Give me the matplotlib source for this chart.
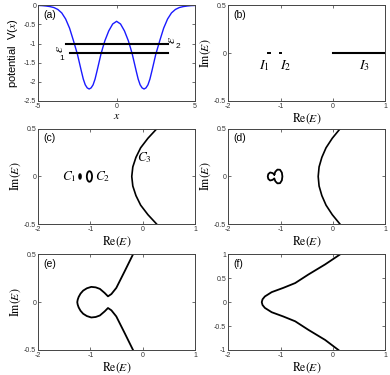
import matplotlib
matplotlib.use('Agg')
import matplotlib.pyplot as plt
from matplotlib.patches import Ellipse

plt.rcParams['font.family'] = ['Liberation Sans', 'DejaVu Sans']
plt.rcParams['mathtext.fontset'] = 'stix'

# (a) double well potential
pot_x = [-5, -4.75, -4.5, -4.25, -4, -3.75, -3.5, -3.25, -3, -2.75, -2.5, -2.375, -2.25, -2.125,
         -2, -1.875, -1.75, -1.625, -1.5, -1.375, -1.25, -1.125, -1, -0.875, -0.75, -0.5, -0.25, 0,
         0.25, 0.5, 0.75, 0.875, 1, 1.125, 1.25, 1.375, 1.5, 1.625, 1.75, 1.875, 2, 2.125,
         2.25, 2.375, 2.5, 2.75, 3, 3.25, 3.5, 3.75, 4, 4.25, 4.5, 4.75, 5]
pot_v = [-0.005, -0.01, -0.02, -0.035, -0.06, -0.11, -0.2, -0.36, -0.6, -0.93, -1.28, -1.50, -1.72, -1.93,
         -2.08, -2.16, -2.19, -2.16, -2.08, -1.93, -1.72, -1.50, -1.28, -1.10, -0.93, -0.67, -0.49, -0.42,
         -0.49, -0.67, -0.93, -1.10, -1.28, -1.50, -1.72, -1.93, -2.08, -2.16, -2.19, -2.16, -2.08, -1.93,
         -1.72, -1.50, -1.28, -0.93, -0.6, -0.36, -0.2, -0.11, -0.06, -0.035, -0.02, -0.01, -0.005]
eps_level = [-1.25, -1.0]
eps_start = [-2.97, -3.2]
eps_end = [3.25, 3.25]

# (b) spectrum pieces
b_point_x = [-1.22, -1.0]
b_band_x = [0, 1]

# (c) two small loops and the open arc
c_loop_cx = [-1.2, -1.02]
c_loop_rx = [0.017, 0.05]
c_loop_ry = [0.024, 0.055]
c_arc_y = [-0.5, -0.4, -0.3, -0.2, -0.1, 0, 0.1, 0.2, 0.3, 0.4, 0.5]
c_arc_x = [0.27, 0.10, -0.04, -0.13, -0.19, -0.21, -0.19, -0.13, -0.04, 0.10, 0.27]

# (d) merged loop and arc
d_loop_x = [-1.12, -1.10, -1.06, -1.01, -0.975, -0.965, -0.975, -1.01, -1.06, -1.10, -1.12,
            -1.15, -1.20, -1.235, -1.245, -1.235, -1.20, -1.15, -1.12]
d_loop_y = [0.02, 0.05, 0.072, 0.07, 0.04, 0.0, -0.04, -0.07, -0.072, -0.05, -0.02,
            -0.035, -0.042, -0.025, 0.0, 0.025, 0.042, 0.035, 0.02]
d_arc_y = [-0.5, -0.4, -0.3, -0.2, -0.1, 0, 0.1, 0.2, 0.3, 0.4, 0.5]
d_arc_x = [0.14, -0.01, -0.13, -0.21, -0.263, -0.28, -0.263, -0.21, -0.13, -0.01, 0.14]

# (e) pinched curve
e_x = [-0.186, -0.345, -0.506, -0.60, -0.665, -0.73, -0.82, -0.90, -0.985, -1.07, -1.14, -1.19,
       -1.226, -1.245, -1.253, -1.245, -1.226, -1.19, -1.14, -1.07, -0.985, -0.90, -0.82, -0.73,
       -0.665, -0.60, -0.506, -0.345, -0.186]
e_y = [0.5, 0.324, 0.149, 0.085, 0.061, 0.097, 0.139, 0.155, 0.16, 0.145, 0.121, 0.09,
       0.055, 0.025, 0.0, -0.025, -0.055, -0.09, -0.121, -0.145, -0.16, -0.155, -0.139, -0.097,
       -0.061, -0.085, -0.149, -0.324, -0.5]

# (f) open curve
f_x = [0.14, -0.147, -0.467, -0.72, -0.946, -1.17, -1.30, -1.345, -1.36, -1.345, -1.30, -1.17,
       -0.946, -0.72, -0.467, -0.147, 0.107]
f_y = [1, 0.79, 0.579, 0.40, 0.30, 0.21, 0.12, 0.06, 0, -0.06, -0.12, -0.21,
       -0.30, -0.40, -0.579, -0.79, -1]

re_ticks = [-2, -1, 0, 1]
re_labels = ['-2', '-1', '0', '1']
im_ticks = [-0.5, 0, 0.5]
im_labels = ['-0.5', '0', '0.5']
imf_ticks = [-1, -0.5, 0, 0.5, 1]
imf_labels = ['-1', '-0.5', '0', '0.5', '1']

fig = plt.figure(figsize=(3.9, 3.75), dpi=100)

W = 0.402
H = 0.255
lefts = [0.098, 0.5854]
bottoms = [0.731, 0.4019, 0.0667]
axs = {}
for i, name in enumerate('abcdef'):
    axs[name] = fig.add_axes([lefts[i % 2], bottoms[i // 2], W, H])

for name, ax in axs.items():
    for s in ax.spines.values():
        s.set_linewidth(0.7)
        s.set_color('#444444')
    ax.tick_params(direction='in', length=2, width=0.5, labelsize=5, pad=1.5,
                   top=True, right=True, colors='#333333')
    ax.text(0.035, 0.95, '(%s)' % name, transform=ax.transAxes, fontsize=7.5,
            va='top', ha='left')

lab_kw = dict(fontsize=8.5, labelpad=1)

# (a)
ax = axs['a']
ax.plot(pot_x, pot_v, color='#1a1aff', lw=1.0)
for lev, x0, x1 in zip(eps_level, eps_start, eps_end):
    ax.plot([x0, x1], [lev, lev], color='black', lw=1.5)
ax.text(-3.65, -1.15, r'$\varepsilon$', rotation=90, fontsize=10, ha='center', va='center')
ax.text(-3.5, -1.38, '1', fontsize=6, ha='center', va='center')
ax.text(3.5, -0.92, r'$\varepsilon$', rotation=90, fontsize=10, ha='center', va='center')
ax.text(3.92, -1.09, '2', fontsize=6, ha='center', va='center')
ax.set_xlim(-5, 5)
ax.set_ylim(-2.5, 0)
ax.set_xticks([-5, 0, 5], ['-5', '0', '5'])
ax.set_yticks([-2.5, -2, -1.5, -1, -0.5, 0], ['-2.5', '-2', '-1.5', '-1', '-0.5', '0'])
ax.set_xlabel(r'$x$', fontsize=8.5, labelpad=0)
ax.set_ylabel(r'potential  V($x$)', fontsize=8, labelpad=3)

# (b)
ax = axs['b']
for px in b_point_x:
    ax.plot([px - 0.012, px + 0.012], [0, 0], color='black', lw=1.4)
ax.plot(b_band_x, [0, 0], color='black', lw=1.5)
ax.text(-1.32, -0.13, r'$I_1$', fontsize=10, ha='center', va='center')
ax.text(-0.9, -0.13, r'$I_2$', fontsize=10, ha='center', va='center')
ax.text(0.6, -0.13, r'$I_3$', fontsize=10, ha='center', va='center')

# (c)
ax = axs['c']
for cx, rx, ry in zip(c_loop_cx, c_loop_rx, c_loop_ry):
    ax.add_patch(Ellipse((cx, 0), 2 * rx, 2 * ry, fill=False, lw=1.3, color='black'))
ax.plot(c_arc_x, c_arc_y, color='black', lw=1.2)
ax.text(-1.41, 0.0, r'$C_1$', fontsize=9.5, ha='center', va='center')
ax.text(-0.77, 0.0, r'$C_2$', fontsize=9.5, ha='center', va='center')
ax.text(0.04, 0.2, r'$C_3$', fontsize=9.5, ha='center', va='center')

# (d)
ax = axs['d']
ax.plot(d_loop_x, d_loop_y, color='black', lw=1.3)
ax.plot(d_arc_x, d_arc_y, color='black', lw=1.2)

# (e)
ax = axs['e']
ax.plot(e_x, e_y, color='black', lw=1.3)

# (f)
ax = axs['f']
ax.plot(f_x, f_y, color='black', lw=1.3)

for name in 'bcdef':
    ax = axs[name]
    ax.set_xlim(-2, 1)
    ax.set_xticks(re_ticks, re_labels)
    if name == 'f':
        ax.set_ylim(-1, 1)
        ax.set_yticks(imf_ticks, imf_labels)
    else:
        ax.set_ylim(-0.5, 0.5)
        ax.set_yticks(im_ticks, im_labels)
    ax.set_xlabel(r'$\mathrm{Re}(E)$', **lab_kw)
    if name != 'f':
        ax.set_ylabel(r'$\mathrm{Im}(E)$', **lab_kw)

fig.savefig('out.png', dpi=100)
